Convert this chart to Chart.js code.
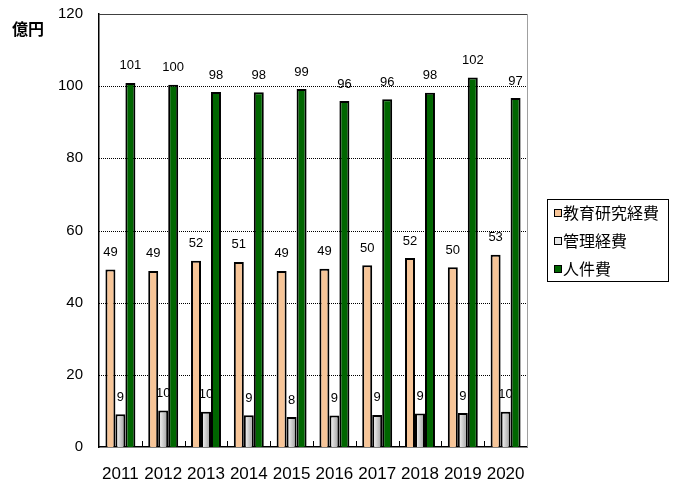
<!DOCTYPE html>
<html>
<head>
<meta charset="utf-8">
<script src="https://cdn.jsdelivr.net/npm/chart.js@4"></script>
<style>
html,body{margin:0;padding:0;background:#fff;}
#c{display:block;}
</style>
</head>
<body>
<canvas id="c" width="678" height="479"></canvas>
<script>
const years = ['2011','2012','2013','2014','2015','2016','2017','2018','2019','2020'];
const seriesNames = ['教育研究経費','管理経費','人件費'];
const kyouikuValues = [49.2, 48.8, 51.6, 51.3, 48.8, 49.4, 50.4, 52.4, 49.8, 53.3];
const kanriValues = [9.1, 10.1, 9.8, 8.8, 8.3, 8.7, 8.9, 9.3, 9.4, 9.8];
const jinkenValues = [100.9, 100.4, 98.4, 98.3, 99.2, 95.9, 96.4, 98.2, 102.4, 96.7];
const yTicks = [0, 20, 40, 60, 80, 100, 120];
const unitLabel = '億円';

const colors = ['#F7C598', '#E8E8E8', '#006600'];
const NUM_FONT = '"Liberation Sans", Arial, sans-serif';
const JP_FONT = '"Noto Sans CJK JP", sans-serif';
const CAT_PCT = 0.7;

function greyFill(sc) {
  const c = sc.chart;
  const xs = c.scales && c.scales.x;
  if (!xs || sc.dataIndex === undefined || !xs.width) return colors[1];
  const cx = xs.getPixelForValue(sc.dataIndex);
  const w = (xs.width / years.length) * CAT_PCT / 3;
  const g = c.ctx.createLinearGradient(cx - w / 2, 0, cx + w / 2, 0);
  g.addColorStop(0, '#ffffff');
  g.addColorStop(1, '#9a9a9a');
  return g;
}

function drawLabel(ctx, chart, di) {
  const meta = chart.getDatasetMeta(di);
  const data = chart.data.datasets[di].data;
  ctx.save();
  ctx.font = '13px ' + NUM_FONT;
  ctx.fillStyle = '#000';
  ctx.textAlign = 'center';
  ctx.textBaseline = 'middle';
  meta.data.forEach((bar, i) => {
    ctx.fillText(String(Math.round(data[i])), bar.x, bar.y - 17);
  });
  ctx.restore();
}

const extras = {
  id: 'extras',
  beforeDatasetsDraw(chart) {
    const ctx = chart.ctx;
    const a = chart.chartArea;
    const ys = chart.scales.y;
    ctx.save();
    ctx.strokeStyle = '#000';
    ctx.lineWidth = 1;
    ctx.setLineDash([1, 1]);
    yTicks.forEach(v => {
      if (v === 0 || v === 120) return;
      const y = Math.round(ys.getPixelForValue(v)) + 0.5;
      ctx.beginPath();
      ctx.moveTo(a.left, y);
      ctx.lineTo(a.right, y);
      ctx.stroke();
    });
    ctx.restore();
    drawLabel(ctx, chart, 1);
  },
  afterDatasetsDraw(chart) {
    const ctx = chart.ctx;
    const a = chart.chartArea;
    drawLabel(ctx, chart, 0);
    drawLabel(ctx, chart, 2);
    ctx.save();
    ctx.strokeStyle = '#404040';
    ctx.lineWidth = 1;
    ctx.beginPath();
    ctx.moveTo(a.left, a.top + 0.5);
    ctx.lineTo(a.right, a.top + 0.5);
    ctx.stroke();
    ctx.strokeStyle = '#a0a0a0';
    ctx.beginPath();
    ctx.moveTo(a.right + 0.5, a.top);
    ctx.lineTo(a.right + 0.5, a.bottom);
    ctx.stroke();
    const xs = chart.scales.x;
    ctx.strokeStyle = '#000';
    for (let i = 1; i < years.length; i++) {
      const x = Math.round((xs.getPixelForValue(i - 1) + xs.getPixelForValue(i)) / 2) + 0.5;
      ctx.beginPath();
      ctx.moveTo(x, a.bottom);
      ctx.lineTo(x, a.bottom - 6);
      ctx.stroke();
    }
    ctx.font = 'bold 16px ' + JP_FONT;
    ctx.fillStyle = '#000';
    ctx.textAlign = 'left';
    ctx.textBaseline = 'middle';
    ctx.fillText(unitLabel, 12, 29);
    const lx = 547, ly = 199, lw = 121, lh = 82;
    ctx.fillStyle = '#fff';
    ctx.fillRect(lx, ly, lw, lh);
    ctx.strokeStyle = '#000';
    ctx.lineWidth = 1;
    ctx.strokeRect(lx + 0.5, ly + 0.5, lw, lh);
    const rowY = [213, 241, 269];
    ctx.font = '16px ' + JP_FONT;
    seriesNames.forEach((name, i) => {
      ctx.fillStyle = colors[i];
      ctx.fillRect(555, rowY[i] - 3, 6, 6);
      ctx.strokeStyle = '#000';
      ctx.strokeRect(554.5, rowY[i] - 3.5, 7, 7);
      ctx.fillStyle = '#000';
      ctx.textAlign = 'left';
      ctx.textBaseline = 'middle';
      ctx.fillText(name, 563, rowY[i]);
    });
    ctx.restore();
  }
};

new Chart(document.getElementById('c'), {
  type: 'bar',
  data: {
    labels: years,
    datasets: [
      { label: seriesNames[0], data: kyouikuValues, backgroundColor: colors[0], borderColor: '#000', borderWidth: 2 },
      { label: seriesNames[1], data: kanriValues, backgroundColor: greyFill, borderColor: '#000', borderWidth: 2 },
      { label: seriesNames[2], data: jinkenValues, backgroundColor: colors[2], borderColor: '#000', borderWidth: 2 }
    ]
  },
  options: {
    responsive: false,
    animation: false,
    devicePixelRatio: 1,
    layout: { padding: { top: 14, right: 151, bottom: 0, left: 0 } },
    plugins: { legend: { display: false }, tooltip: { enabled: false } },
    datasets: { bar: { categoryPercentage: CAT_PCT, barPercentage: 1.0 } },
    scales: {
      x: {
        grid: { display: false },
        border: { display: true, color: '#000', width: 1.5 },
        ticks: { color: '#000', font: { size: 17, family: NUM_FONT }, padding: 9, maxRotation: 0 },
        afterFit(scale) { scale.height = 32; scale.paddingLeft = 0; scale.paddingRight = 0; }
      },
      y: {
        min: 0, max: 120,
        afterBuildTicks(scale) { scale.ticks = yTicks.map(v => ({ value: v })); },
        grid: { display: false, drawTicks: false },
        border: { display: true, color: '#000', width: 1.5 },
        ticks: { color: '#000', font: { size: 15, family: NUM_FONT }, padding: 16 },
        afterFit(scale) { scale.width = 99; scale.paddingTop = 0; scale.paddingBottom = 0; }
      }
    }
  },
  plugins: [extras]
});
</script>
</body>
</html>
